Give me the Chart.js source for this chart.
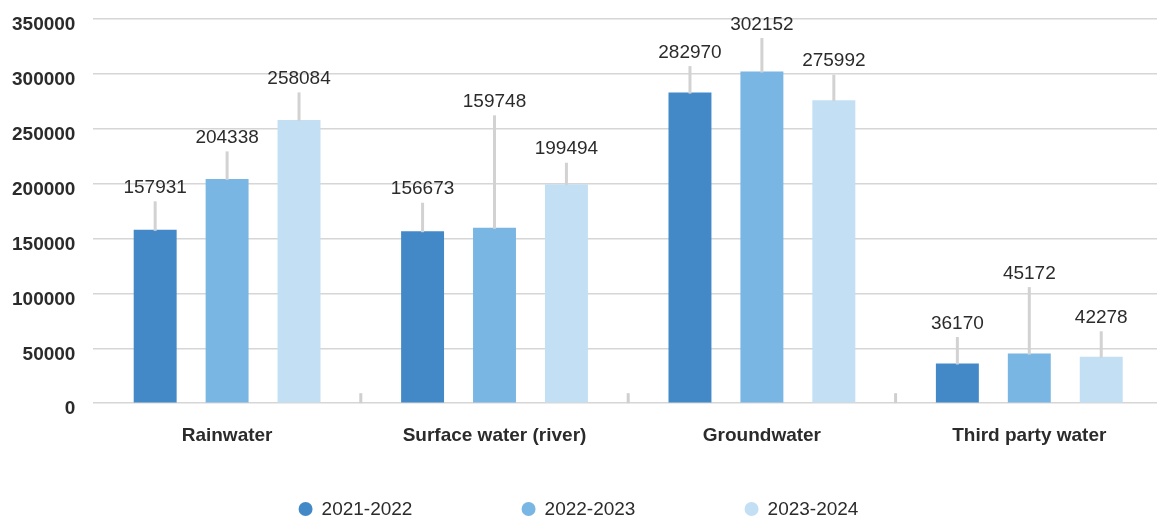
<!DOCTYPE html>
<html>
<head>
<meta charset="utf-8">
<title>Water withdrawal by source</title>
<script src="https://cdn.jsdelivr.net/npm/chart.js@4.4.1/dist/chart.umd.min.js"></script>
<style>
  html, body { margin: 0; padding: 0; background: #ffffff; overflow: hidden; }
  #wrap { position: relative; width: 1163px; height: 518px; }
</style>
</head>
<body>
<div id="wrap"><canvas id="chart"></canvas></div>
<script>
// Water withdrawal by source (kilolitres)
const categories = ['Rainwater', 'Surface water (river)', 'Groundwater', 'Third party water'];
const years = ['2021-2022', '2022-2023', '2023-2024'];
const fy2022 = [157931, 156673, 282970, 36170];
const fy2023 = [204338, 159748, 302152, 45172];
const fy2024 = [258084, 199494, 275992, 42278];
const yTicks = [0, 50000, 100000, 150000, 200000, 250000, 300000, 350000];

const colours = ['#4389c8', '#79b6e3', '#c3dff4'];
const FONT = '"Liberation Sans", Arial, Helvetica, sans-serif';
const TEXT = '#2b2b2b';

// How far (px) each value label sits above its bar, per dataset / category
const labelLift = [
  [43, 43, 41, 41],
  [42, 127, 48, 81],
  [42, 36, 40, 40]
];

// Value labels with a grey leader line down to the bar top
const valueLabels = {
  id: 'valueLabels',
  afterDatasetsDraw(chart) {
    const ctx = chart.ctx;
    ctx.save();
    ctx.font = '19px ' + FONT;
    ctx.textAlign = 'center';
    ctx.textBaseline = 'middle';
    chart.data.datasets.forEach((ds, di) => {
      const meta = chart.getDatasetMeta(di);
      meta.data.forEach((bar, i) => {
        const top = chart.scales.y.getPixelForValue(ds.data[i]);
        const ly = top - labelLift[di][i];
        ctx.strokeStyle = '#d2d2d2';
        ctx.lineWidth = 3;
        ctx.beginPath();
        ctx.moveTo(bar.x, ly + 14.5);
        ctx.lineTo(bar.x, top + 1);
        ctx.stroke();
        ctx.fillStyle = TEXT;
        ctx.fillText(String(ds.data[i]), bar.x, ly + 1);
      });
    });
    ctx.restore();
  }
};

// Short upward ticks on the baseline between categories
const groupTicks = {
  id: 'groupTicks',
  beforeDatasetsDraw(chart) {
    const x = chart.scales.x, y = chart.scales.y;
    const ctx = chart.ctx;
    const base = y.getPixelForValue(0);
    ctx.save();
    ctx.strokeStyle = '#cfcfcf';
    ctx.lineWidth = 3;
    for (let i = 1; i < categories.length; i++) {
      const bx = (x.getPixelForValue(i - 1) + x.getPixelForValue(i)) / 2;
      ctx.beginPath();
      ctx.moveTo(bx, base);
      ctx.lineTo(bx, base - 10);
      ctx.stroke();
    }
    ctx.restore();
  }
};

// Centered legend row with round markers (centred in the visible page width)
const bottomLegend = {
  id: 'bottomLegend',
  afterDraw(chart) {
    const ctx = chart.ctx;
    const step = 223;
    ctx.save();
    ctx.font = '19px ' + FONT;
    ctx.textBaseline = 'middle';
    ctx.textAlign = 'left';
    const n = chart.data.datasets.length;
    const lastW = ctx.measureText(chart.data.datasets[n - 1].label).width;
    const total = step * (n - 1) + 23 + lastW;
    const viewW = Math.min(chart.width, document.documentElement.clientWidth || chart.width);
    const x0 = (viewW - total) / 2;
    const yc = 509;
    chart.data.datasets.forEach((ds, i) => {
      const x = x0 + i * step;
      ctx.fillStyle = ds.backgroundColor;
      ctx.beginPath();
      ctx.arc(x + 7, yc, 7, 0, Math.PI * 2);
      ctx.fill();
      ctx.fillStyle = TEXT;
      ctx.fillText(ds.label, x + 23, yc + 1);
    });
    ctx.restore();
  }
};

new Chart(document.getElementById('chart'), {
  type: 'bar',
  data: {
    labels: categories,
    datasets: [
      { label: years[0], data: fy2022, backgroundColor: colours[0] },
      { label: years[1], data: fy2023, backgroundColor: colours[1] },
      { label: years[2], data: fy2024, backgroundColor: colours[2] }
    ]
  },
  options: {
    responsive: true,
    maintainAspectRatio: false,
    animation: false,
    layout: { padding: { left: -6, right: 0, top: 19, bottom: 50 } },
    datasets: { bar: { categoryPercentage: 0.807, barPercentage: 0.597 } },
    plugins: {
      legend: { display: false },
      tooltip: { enabled: false }
    },
    scales: {
      x: {
        grid: { display: false, drawTicks: false },
        border: { display: false },
        ticks: {
          padding: 21,
          color: TEXT,
          font: { family: FONT, size: 19, weight: 'bold' }
        }
      },
      y: {
        min: 0,
        max: 350000,
        afterBuildTicks(scale) { scale.ticks = yTicks.map(v => ({ value: v })); },
        afterFit(scale) { scale.paddingTop = 0; },
        grid: { color: '#d6d6d6', lineWidth: 1.5, drawTicks: false },
        border: { display: false },
        ticks: {
          padding: 18,
          labelOffset: 6,
          color: TEXT,
          font: { family: FONT, size: 19, weight: 'bold' },
          callback: v => String(v)
        }
      }
    }
  },
  plugins: [groupTicks, valueLabels, bottomLegend]
});
</script>
</body>
</html>
